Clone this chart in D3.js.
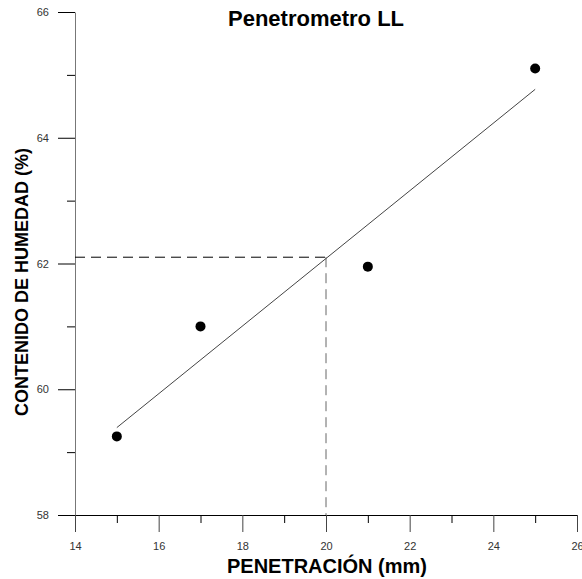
<!DOCTYPE html>
<html>
<head>
<meta charset="utf-8">
<script src="https://d3js.org/d3.v7.min.js"></script>
<style>
  body { margin: 0; background: #fff; }
  text { font-family: Arial, "Liberation Sans", sans-serif; }
  .tick text { font-size: 11px; fill: #333; }
</style>
</head>
<body>
<script>
// data
const penetracion = [15, 17, 21, 25];
const humedad = [59.25, 61.0, 61.95, 65.1];
const ajuste = [[15, 59.39], [25, 64.77]];   // recta de ajuste
const llX = 20, llY = 62.1;                   // lectura a 20 mm
const xMajor = [14, 16, 18, 20, 22, 24, 26];
const xMinor = [15, 17, 19, 21, 23, 25];
const yMajor = [58, 60, 62, 64, 66];
const yMinor = [59, 61, 63, 65];

const W = 582, H = 579;
const svg = d3.select("body").append("svg")
  .attr("width", W).attr("height", H);

const x = d3.scaleLinear().domain([14, 26]).range([75, 577]);
const y = d3.scaleLinear().domain([58, 66]).range([515, 12]);

// y axis
const gy = svg.append("g").attr("transform", "translate(75,0)");
gy.call(d3.axisLeft(y).tickValues(yMajor).tickSize(17).tickSizeOuter(0).tickPadding(9).tickFormat(d3.format("d")));
gy.select(".domain").attr("stroke", "#777");
svg.append("g").attr("transform", "translate(75,0)")
  .call(d3.axisLeft(y).tickValues(yMinor).tickSize(8).tickFormat(""))
  .select(".domain").remove();

// x axis
const gx = svg.append("g").attr("transform", "translate(0,515)");
gx.call(d3.axisBottom(x).tickValues(xMajor).tickSize(17).tickSizeOuter(0).tickPadding(10).tickFormat(d3.format("d")));
gx.selectAll(".tick line").attr("stroke", "#444");
svg.append("g").attr("transform", "translate(0,515)")
  .call(d3.axisBottom(x).tickValues(xMinor).tickSize(8).tickFormat(""))
  .select(".domain").remove();

// dashed reading lines
svg.append("line")
  .attr("x1", x(14)).attr("x2", x(llX))
  .attr("y1", y(llY)).attr("y2", y(llY))
  .attr("stroke", "#000").attr("stroke-dasharray", "10,6");
svg.append("line")
  .attr("x1", x(llX)).attr("x2", x(llX))
  .attr("y1", y(llY)).attr("y2", y(58))
  .attr("stroke", "#666").attr("stroke-dasharray", "10,6");

// regression line
svg.append("path")
  .datum(ajuste)
  .attr("fill", "none").attr("stroke", "#444").attr("stroke-width", 1)
  .attr("d", d3.line().x(d => x(d[0])).y(d => y(d[1])));

// points
svg.selectAll("circle.pt").data(penetracion).enter()
  .append("circle").attr("class", "pt")
  .attr("cx", d => x(d))
  .attr("cy", (d, i) => y(humedad[i]))
  .attr("r", 5)
  .attr("fill", "#000");

// titles
svg.append("text")
  .attr("x", 316).attr("y", 26)
  .attr("text-anchor", "middle")
  .style("font-size", "22px").style("font-weight", "bold")
  .text("Penetrometro LL");

svg.append("text")
  .attr("x", 327).attr("y", 573)
  .attr("text-anchor", "middle")
  .style("font-size", "20px").style("font-weight", "bold")
  .text("PENETRACIÓN (mm)");

svg.append("text")
  .attr("transform", "translate(28,282) rotate(-90)")
  .attr("text-anchor", "middle")
  .style("font-size", "18px").style("font-weight", "bold")
  .text("CONTENIDO DE HUMEDAD (%)");
</script>
</body>
</html>
